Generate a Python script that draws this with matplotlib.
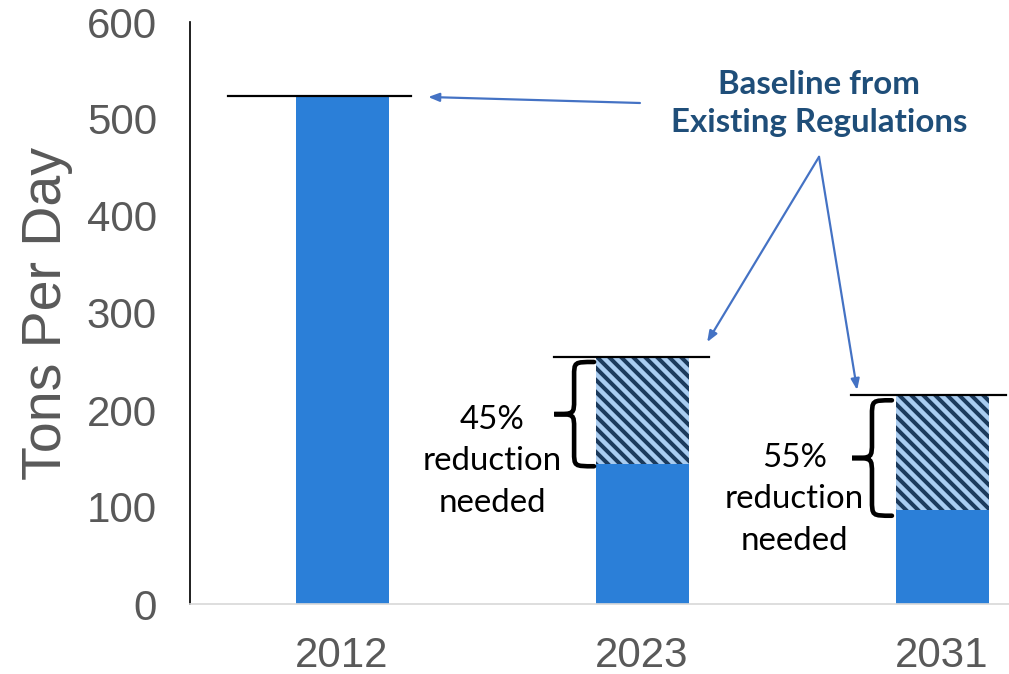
import numpy as np
import matplotlib
matplotlib.use("Agg")
from matplotlib import pyplot as plt
from matplotlib.path import Path
from matplotlib.patches import PathPatch

# data
years = ["2012", "2023", "2031"]
baseline = [524, 255, 215]          # baseline from existing regulations
needed = [524, 144, 97]             # level after the reduction
reduction_text = ["", "45%\nreduction\nneeded", "55%\nreduction\nneeded"]

solid_color = "#2B7FD8"
hatch_bg = "#A9CCF0"
hatch_fg = "#1B3A5C"
arrow_color = "#4472C4"
gray = "#595959"

# dpi 72 -> 1 pt == 1 px, and the hatch gets the tighter spacing of the original
plt.rcParams["hatch.linewidth"] = 4.0
plt.rcParams["hatch.color"] = hatch_fg

fig = plt.figure(figsize=(1009 / 72, 674 / 72), dpi=72)
ax = fig.add_axes([190 / 1009, 70 / 674, 902 / 1009, 582 / 674])

x = np.arange(len(years))
w = 0.31
# solid part
ax.bar(x, needed, width=w, color=solid_color, zorder=2)
# hatched part (the reduction)
gap = np.array(baseline) - np.array(needed)
ax.bar(x, gap, width=w, bottom=needed, color=hatch_bg, hatch="\\\\",
       edgecolor=hatch_fg, linewidth=0, zorder=2)

# baseline lines
line_ext = [(-0.38, 0.23), (0.707, 1.223), (1.697, 2.213)]
for i, (a, b) in enumerate(line_ext):
    ax.plot([a, b], [baseline[i], baseline[i]], color="black", lw=2.2, zorder=3)

# curly braces
def brace(ax, x0, x1, y0, y1):
    xm = (x0 + x1) / 2
    ym = (y0 + y1) / 2
    ry = (y1 - y0) * 0.14
    verts = [(x1, y1),
             (xm, y1), (xm, y1), (xm, y1 - ry),
             (xm, ym + ry),
             (xm, ym), (xm, ym), (x0, ym),
             (xm, ym), (xm, ym), (xm, ym - ry),
             (xm, y0 + ry),
             (xm, y0), (xm, y0), (x1, y0)]
    codes = [Path.MOVETO,
             Path.CURVE4, Path.CURVE4, Path.CURVE4,
             Path.LINETO,
             Path.CURVE4, Path.CURVE4, Path.CURVE4,
             Path.CURVE4, Path.CURVE4, Path.CURVE4,
             Path.LINETO,
             Path.CURVE4, Path.CURVE4, Path.CURVE4]
    ax.add_patch(PathPatch(Path(verts, codes), fill=False, lw=4.6,
                           edgecolor="black", capstyle="round", zorder=4))

brace(ax, 0.707, 0.84, 142, 249.5)
brace(ax, 1.70, 1.833, 91, 210)

# reduction labels
txt_pos = [None, (0.5, 147), (1.507, 108)]
for i in range(1, 3):
    ax.text(txt_pos[i][0], txt_pos[i][1], reduction_text[i], ha="center", va="center",
            fontsize=33, family="Lato", linespacing=1.48, color="black")

# baseline annotation
ax.text(1.59, 516, "Baseline from\nExisting Regulations", ha="center", va="center",
        fontsize=33, family="Lato", fontweight="bold", color="#1F4E79", linespacing=1.4)
aprops = dict(arrowstyle="-|>,head_length=0.9,head_width=0.35", color=arrow_color, lw=2.2,
              shrinkA=0, shrinkB=0)
ax.annotate("", xy=(0.287, 522.7), xytext=(0.993, 516.5), arrowprops=aprops)
ax.annotate("", xy=(1.217, 270), xytext=(1.59, 461), arrowprops=aprops)
ax.annotate("", xy=(1.717, 220.6), xytext=(1.59, 461), arrowprops=aprops)

ax.set_xlim(-0.507, 2.5)
ax.set_ylim(0, 600)
ax.set_yticks(np.arange(0, 601, 100))
ax.set_xticks(x)
ax.set_xticklabels(years)
ax.tick_params(length=0, labelsize=42, labelcolor=gray)
ax.tick_params(axis="x", pad=32)
ax.tick_params(axis="y", pad=33)
for lab in ax.get_xticklabels() + ax.get_yticklabels():
    lab.set_family("Liberation Sans")
ax.set_ylabel("Tons Per Day", fontsize=55.5, color=gray, family="Liberation Sans", labelpad=14)

for s in ["top", "right"]:
    ax.spines[s].set_visible(False)
ax.spines["left"].set_color("black")
ax.spines["left"].set_linewidth(1.7)
ax.spines["bottom"].set_color("#D9D9D9")
ax.spines["bottom"].set_linewidth(1.7)

fig.savefig("out.png", dpi=72)
